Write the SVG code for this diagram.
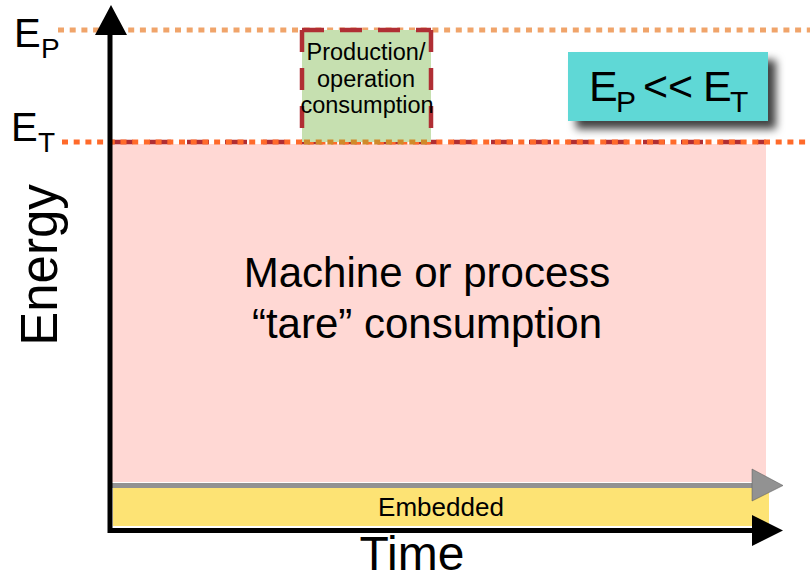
<svg xmlns="http://www.w3.org/2000/svg" width="810" height="580" viewBox="0 0 810 580">
  <defs>
    <style>
      text { font-family: "Liberation Sans", Arial, sans-serif; fill: #000; }
      .mid { text-anchor: middle; }
      .dotP { stroke: #f0a46a; stroke-width: 5; stroke-dasharray: 6 5.7; fill: none; }
      .dotT { stroke: #ff6a2a; stroke-width: 5; stroke-dasharray: 6 5.7; fill: none; }
      .redDash { stroke: #b02e34; stroke-width: 4.5; stroke-dasharray: 22 16; fill: none; }
    </style>
    <filter id="shadow" x="-20%" y="-20%" width="150%" height="160%">
      <feDropShadow dx="8" dy="8" stdDeviation="4" flood-color="#000" flood-opacity="0.75"/>
    </filter>
  </defs>

  <rect width="810" height="580" fill="#fff"/>

  <!-- tare consumption area -->
  <g id="tare">
    <rect x="111" y="144" width="655" height="338" fill="#ffd8d4"/>
    <line x1="111" y1="142" x2="766" y2="142" class="redDash"/>
    <text x="427" y="287" font-size="42" class="mid">Machine or process</text>
    <text x="427" y="338" font-size="42" class="mid">“tare” consumption</text>
  </g>

  <!-- embedded energy band -->
  <g id="embedded">
    <rect x="113" y="488" width="656" height="38" fill="#fde374"/>
    <text x="441" y="516" font-size="26" class="mid">Embedded</text>
  </g>

  <!-- energy level lines -->
  <g id="levels">
    <line x1="58" y1="30" x2="810" y2="30" class="dotP"/>
    <line x1="62" y1="142" x2="810" y2="142" class="dotT"/>
  </g>

  <!-- production / operation consumption -->
  <g id="production">
    <rect x="302" y="30" width="129" height="112" fill="#c6e0b0"/>
    <line x1="302" y1="30" x2="431" y2="30" class="redDash"/>
    <line x1="302" y1="30" x2="302" y2="142" class="redDash"/>
    <line x1="431" y1="30" x2="431" y2="142" class="redDash"/>
    <line x1="304" y1="142" x2="430" y2="142" stroke="#d08a2a" stroke-width="5" stroke-dasharray="6 5.7"/>
    <text x="366" y="60" font-size="23.5" class="mid">Production/</text>
    <text x="366" y="87" font-size="23.5" class="mid">operation</text>
    <text x="367" y="113" font-size="23.5" class="mid">consumption</text>
  </g>

  <!-- Ep << Et callout -->
  <g id="ratio">
    <rect x="568" y="52" width="200" height="69" fill="#5ed8d6" filter="url(#shadow)"/>
    <text x="589" y="101" font-size="43">E</text>
    <text x="616" y="112" font-size="30">P</text>
    <text x="643" y="101" font-size="43">&lt;&lt;</text>
    <text x="703" y="101" font-size="43">E</text>
    <text x="730" y="112" font-size="30">T</text>
  </g>

  <!-- axes and arrows -->
  <g id="connectors">
    <line x1="110" y1="485.5" x2="753" y2="485.5" stroke="#929292" stroke-width="5"/>
    <polygon points="752,469 783,485.5 752,501" fill="#929292" stroke="#555" stroke-width="0.5"/>
    <line x1="110" y1="30" x2="110" y2="533" stroke="#000" stroke-width="5"/>
    <polygon points="111,5 95,35 127,35" fill="#000"/>
    <line x1="108" y1="530.5" x2="753" y2="530.5" stroke="#000" stroke-width="5"/>
    <polygon points="752,515 783,530.5 752,546" fill="#000"/>
  </g>

  <!-- axis labels -->
  <g id="labels">
    <text x="14" y="47" font-size="40">E</text>
    <text x="41" y="58" font-size="28">P</text>
    <text x="11" y="141" font-size="40">E</text>
    <text x="38" y="152" font-size="28">T</text>
    <text transform="translate(57,265) rotate(-90)" font-size="51" class="mid">Energy</text>
    <text x="412" y="570" font-size="48" class="mid">Time</text>
  </g>
</svg>
